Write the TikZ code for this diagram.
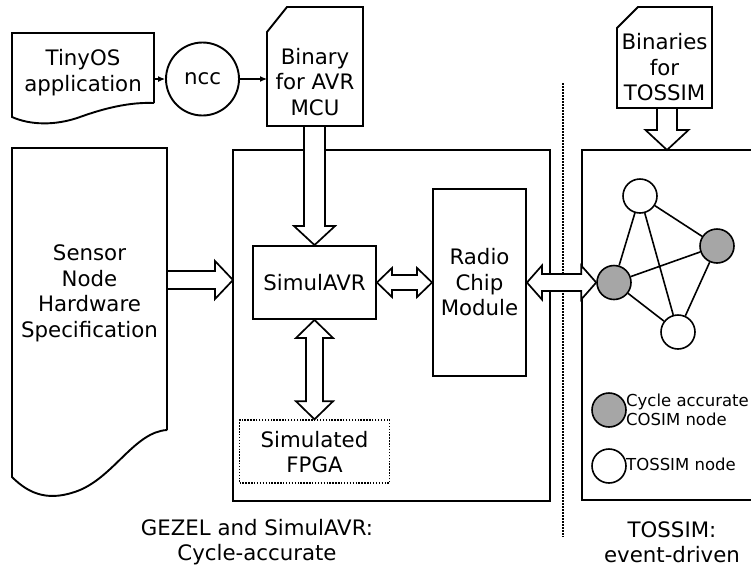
\documentclass[tikz,border=0pt]{standalone}
\usepackage{fontspec}
\setmainfont{DejaVu Sans}
\usetikzlibrary{calc,arrows.meta}
\definecolor{nodegray}{RGB}{166,166,166}
\tikzset{
  outline/.style={draw, line width=1.9pt, line join=miter},
  lbl/.style={align=center, font=\fontsize{21.3}{25.5}\selectfont, inner sep=0pt},
  smalllbl/.style={align=left, font=\fontsize{16.5}{19}\selectfont, inner sep=0pt},
  box/.style={rectangle, draw, line width=1.9pt, inner sep=0pt},
  dotbox/.style={rectangle, draw, line width=1.4pt, dash pattern=on 1.4pt off 1.5pt, inner sep=0pt},
  blk/.style={draw, fill=white, line width=1.7pt, line join=miter},
  gnode/.style={circle, draw, line width=1.6pt, minimum size=34pt, inner sep=0pt},
  thinarrow/.style={-{Latex[length=7pt,width=6pt]}, line width=1.2pt},
  sepline/.style={line width=1.5pt, dash pattern=on 1.5pt off 1.5pt},
  gedge/.style={line width=1.6pt}
}
\newcommand{\blockarrow}[5]{%
  \coordinate (bah) at ($(#2)!#5!(#1)$);
  \draw[blk] ($(#1)!#3!90:(#2)$) -- ($(bah)!#3!90:(#2)$) -- ($(bah)!#4!90:(#2)$) -- (#2)
    -- ($(bah)!#4!-90:(#2)$) -- ($(bah)!#3!-90:(#2)$) -- ($(#1)!#3!-90:(#2)$) -- cycle;}
\newcommand{\blockdarrow}[5]{%
  \coordinate (bda) at ($(#1)!#5!(#2)$);
  \coordinate (bdb) at ($(#2)!#5!(#1)$);
  \draw[blk] (#1) -- ($(bda)!#4!90:(#2)$) -- ($(bda)!#3!90:(#2)$) -- ($(bdb)!#3!90:(#2)$)
    -- ($(bdb)!#4!90:(#2)$) -- (#2) -- ($(bdb)!#4!-90:(#2)$) -- ($(bdb)!#3!-90:(#2)$)
    -- ($(bda)!#3!-90:(#2)$) -- ($(bda)!#4!-90:(#2)$) -- cycle;}
\begin{document}
\begin{tikzpicture}[x=1pt,y=-1pt]
\fill[white] (0,0) rectangle (751,568);
\useasboundingbox (0,0) rectangle (751,568);

% separator
\coordinate (sepT) at (563,83);
\coordinate (sepB) at (563,537);
\draw[sepline] (sepT) -- (sepB);

% GEZEL box and TOSSIM box
\node[box, minimum width=317pt, minimum height=351pt] (gezel) at (391.5,325.5) {};
\draw[outline] (752,150) -| (582,500) -- (752,500);
\coordinate (tossimtop) at (667,150);

% TinyOS document
\draw[outline] (154,103) -- (154,33) -- (12,33) -- (12,117)
  .. controls (30,125) and (55,126) .. (80,117)
  .. controls (105,108) and (130,102) .. (154,103);
\node[lbl] (tinyos) at (83,72.5) {TinyOS\\application};
\coordinate (tinyE) at (154,79);

% ncc
\node[circle, draw, line width=1.9pt, minimum size=73pt, inner sep=0pt, font=\fontsize{21.3}{25.5}\selectfont] (ncc) at (202.5,79) {ncc};

% Binary for AVR MCU
\draw[outline] (267,32) -- (287,7) -- (363,7) -- (363,126) -- (267,126) -- cycle;
\node[lbl] (bin) at (315,82) {Binary\\for AVR\\MCU};
\coordinate (binW) at (267,79);
\coordinate (binS) at (314.5,126);

% Binaries for TOSSIM
\draw[outline] (617,28) -- (638,7) -- (712,7) -- (712,108) -- (617,108) -- cycle;
\node[lbl] (bins) at (664.5,67.5) {Binaries\\for\\TOSSIM};
\coordinate (binsS) at (667,108);

% Sensor node hardware specification
\draw[outline] (167,430) -- (167,148) -- (12,148) -- (12,477)
  .. controls (30,495) and (50,502) .. (80,490)
  .. controls (115,475) and (135,432) .. (167,430);
\node[lbl] (sensor) at (89.5,293.5) {Sensor\\Node\\Hardware\\Specification};
\coordinate (sensE) at (167,280);
\coordinate (gezW) at (233,280);

% inner blocks
\node[box, lbl, minimum width=123pt, minimum height=73pt] (sim) at (314.5,282.5) {SimulAVR};
\node[box, lbl, minimum width=93pt, minimum height=187pt] (radio) at (479.5,282.5) {Radio\\Chip\\Module};
\node[dotbox, minimum width=150pt, minimum height=63pt] (fpga) at (314.5,451.5) {};
\node[lbl] (fpgatxt) at (314.5,452) {Simulated\\FPGA};

% network graph
\node[gnode, fill=white] (g1) at (640,196) {};
\node[gnode, fill=nodegray] (g2) at (717,246) {};
\node[gnode, fill=nodegray] (g3) at (614,282.5) {};
\node[gnode, fill=white] (g4) at (678,332) {};
\draw[gedge] (g1) -- (g2) (g1) -- (g3) (g1) -- (g4) (g2) -- (g3) (g2) -- (g4) (g3) -- (g4);

% legend
\node[gnode, fill=nodegray] (lg) at (609,410) {};
\node[gnode, fill=white] (lw) at (609,466) {};
\node[smalllbl, anchor=west] (lgt) at (626,409.5) {Cycle accurate\\COSIM node};
\node[smalllbl, anchor=west] (lwt) at (626,464) {TOSSIM node};

% thin arrows
\draw[thinarrow] (tinyE) -- (ncc);
\draw[thinarrow] (ncc) -- (binW);

% block arrows
\blockarrow{binS}{sim.north}{10.5pt}{20.5pt}{19pt}
\blockarrow{sensE}{gezW}{9pt}{19pt}{18pt}
\blockarrow{binsS}{tossimtop}{10pt}{21.5pt}{20pt}
\blockdarrow{sim.east}{radio.west}{7.5pt}{14.5pt}{15pt}
\blockdarrow{sim.south}{fpga.north}{8.5pt}{18.5pt}{18pt}
\blockdarrow{radio.east}{g3.west}{8.5pt}{17pt}{15pt}

% captions
\node[lbl] (capL) at (257,542) {GEZEL and SimulAVR:\\Cycle-accurate};
\node[lbl] (capR) at (672,542) {TOSSIM:\\event-driven};
\end{tikzpicture}
\end{document}
